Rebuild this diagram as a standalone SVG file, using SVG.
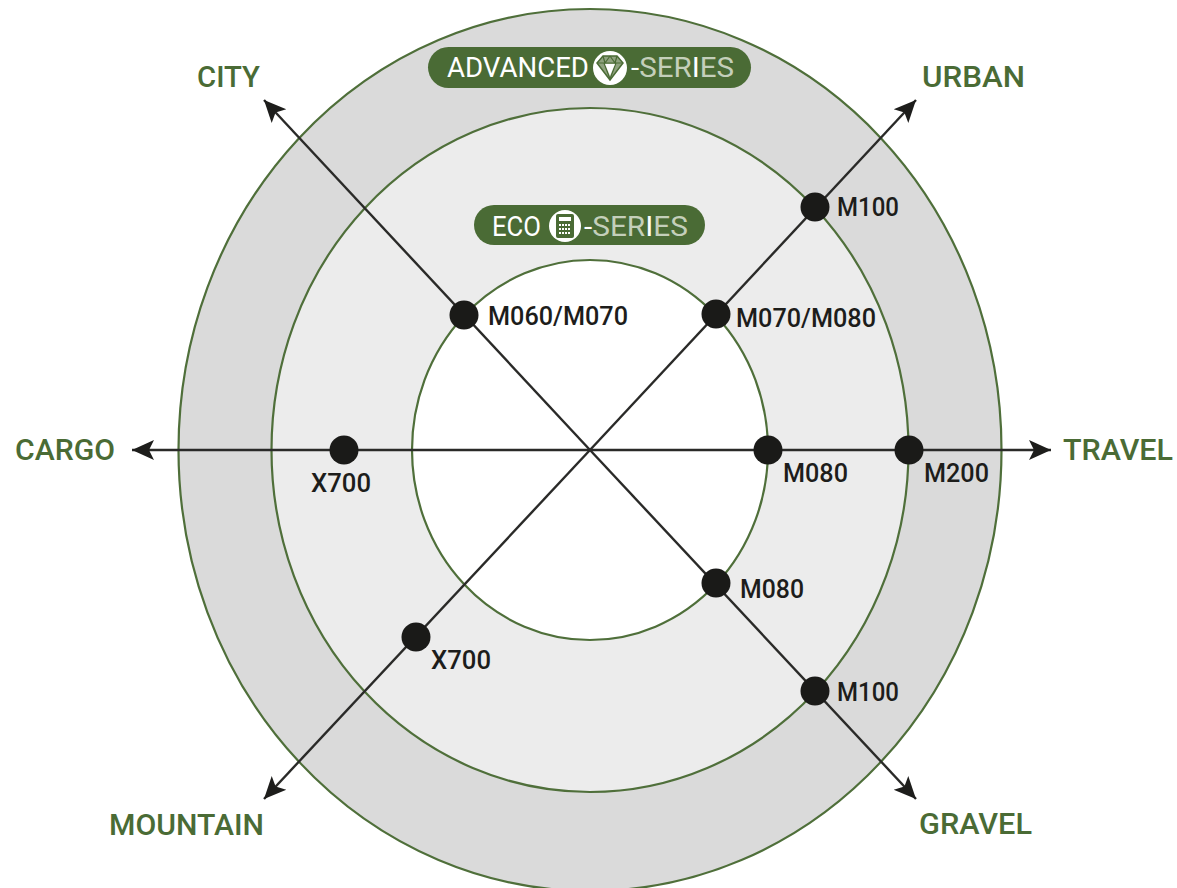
<svg xmlns="http://www.w3.org/2000/svg" width="1177" height="888" viewBox="0 0 1177 888">
<style>
.ring{stroke:#4f6f3a;stroke-width:2.2}
.ax{stroke:#2a2a28;stroke-width:2.4;fill:none;marker-end:url(#ah)}
.dot{fill:#1a1a18}
.cat{font:500 30px Roboto,"Liberation Sans",sans-serif;fill:#4a6b35}
.lab{font:500 25px Roboto,"Liberation Sans",sans-serif;fill:#1d1d1b}
.pill{fill:#4a6b35}
.pt{font:400 28px Roboto,"Liberation Sans",sans-serif;fill:#fff}
.pt2{fill:#c4cfba}
</style>
<defs>
<marker id="ah" markerUnits="userSpaceOnUse" markerWidth="26" markerHeight="22" refX="22" refY="10" orient="auto" viewBox="0 0 26 20"><path d="M0 0L22 10L0 20L5 10Z" fill="#1d1d1b"/></marker>
</defs>
<g id="rings">
<ellipse class="ring" cx="590" cy="450" rx="411.5" ry="441" fill="#dadada"/>
<ellipse class="ring" cx="590" cy="450" rx="318.500" ry="342" fill="#ececec"/>
<ellipse class="ring" cx="590" cy="450" rx="178" ry="190" fill="#fff"/>
</g>
<g id="connectors">
<line class="ax" x1="590" y1="450" x2="1051" y2="450"/>
<line class="ax" x1="590" y1="450" x2="132" y2="450"/>
<line class="ax" x1="590" y1="450" x2="916" y2="100"/>
<line class="ax" x1="590" y1="450" x2="264" y2="100"/>
<line class="ax" x1="590" y1="450" x2="264" y2="799"/>
<line class="ax" x1="590" y1="450" x2="916" y2="799"/>
</g>
<g id="advanced-series">
<rect class="pill" x="428" y="47" width="323" height="41" rx="20.500"/>
<text class="pt" x="447" y="77" textLength="142" lengthAdjust="spacingAndGlyphs">ADVANCED</text>
<circle cx="610" cy="68" r="17" fill="#fff"/>
<path d="M597 63L603 56H617L623 63L610 80Z" fill="#8fa27f" stroke="#4a6b35" stroke-width="1.500"/>
<path d="M597 63H623M604 63L610 79L616 63M603 56L605 63M617 56L615 63M610 56L605 63M610 56L615 63" fill="none" stroke="#4a6b35" stroke-width="1.200"/>
<path d="M605 64H615L610 76Z" fill="#fff"/>
<text class="pt" x="631" y="77" textLength="103" lengthAdjust="spacingAndGlyphs">-<tspan class="pt2">SER</tspan>I<tspan class="pt2">ES</tspan></text>
</g>
<g id="eco-series">
<rect class="pill" x="474" y="205" width="231" height="40" rx="20"/>
<text class="pt" x="492" y="236" textLength="49" lengthAdjust="spacingAndGlyphs">ECO</text>
<circle cx="565" cy="226" r="16" fill="#fff"/>
<rect x="556" y="214" width="18" height="24" rx="2" fill="#4a6b35"/>
<rect x="559" y="217" width="12" height="4" fill="#fff"/>
<path d="M559 225H571M559 229H571M559 233H571" stroke="#fff" stroke-width="1.800" stroke-dasharray="2 1"/>
<text class="pt" x="584" y="236" textLength="104" lengthAdjust="spacingAndGlyphs">-<tspan class="pt2">SER</tspan>I<tspan class="pt2">ES</tspan></text>
</g>
<g id="cat-urban"><text class="cat" x="922" y="87" textLength="103" lengthAdjust="spacingAndGlyphs">URBAN</text></g>
<g id="cat-city"><text class="cat" x="197" y="87" textLength="63" lengthAdjust="spacingAndGlyphs">CITY</text></g>
<g id="cat-cargo"><text class="cat" x="15" y="460" textLength="100" lengthAdjust="spacingAndGlyphs">CARGO</text></g>
<g id="cat-travel"><text class="cat" x="1063" y="460" textLength="110" lengthAdjust="spacingAndGlyphs">TRAVEL</text></g>
<g id="cat-mountain"><text class="cat" x="109" y="835" textLength="155" lengthAdjust="spacingAndGlyphs">MOUNTAIN</text></g>
<g id="cat-gravel"><text class="cat" x="919" y="834" textLength="113" lengthAdjust="spacingAndGlyphs">GRAVEL</text></g>
<g id="n-m100-top"><circle class="dot" cx="815" cy="207" r="14.500"/><text class="lab" x="837" y="216" textLength="62" lengthAdjust="spacingAndGlyphs">M100</text></g>
<g id="n-m070"><circle class="dot" cx="716" cy="314" r="14.500"/><text class="lab" x="736" y="327" textLength="140" lengthAdjust="spacingAndGlyphs">M070/M080</text></g>
<g id="n-m060"><circle class="dot" cx="464" cy="315" r="14.500"/><text class="lab" x="488" y="325" textLength="140" lengthAdjust="spacingAndGlyphs">M060/M070</text></g>
<g id="n-x700-left"><circle class="dot" cx="344" cy="450" r="14.500"/><text class="lab" x="311" y="492" textLength="60" lengthAdjust="spacingAndGlyphs">X700</text></g>
<g id="n-m080-right"><circle class="dot" cx="768" cy="450" r="14.500"/><text class="lab" x="783" y="482" textLength="65" lengthAdjust="spacingAndGlyphs">M080</text></g>
<g id="n-m200"><circle class="dot" cx="909" cy="450" r="14.500"/><text class="lab" x="924" y="482" textLength="65" lengthAdjust="spacingAndGlyphs">M200</text></g>
<g id="n-m080-low"><circle class="dot" cx="716" cy="583" r="14.500"/><text class="lab" x="740" y="598" textLength="64" lengthAdjust="spacingAndGlyphs">M080</text></g>
<g id="n-x700-low"><circle class="dot" cx="416" cy="637" r="14.500"/><text class="lab" x="431" y="669" textLength="60" lengthAdjust="spacingAndGlyphs">X700</text></g>
<g id="n-m100-low"><circle class="dot" cx="815" cy="691" r="14.500"/><text class="lab" x="837" y="701" textLength="62" lengthAdjust="spacingAndGlyphs">M100</text></g>
</svg>
